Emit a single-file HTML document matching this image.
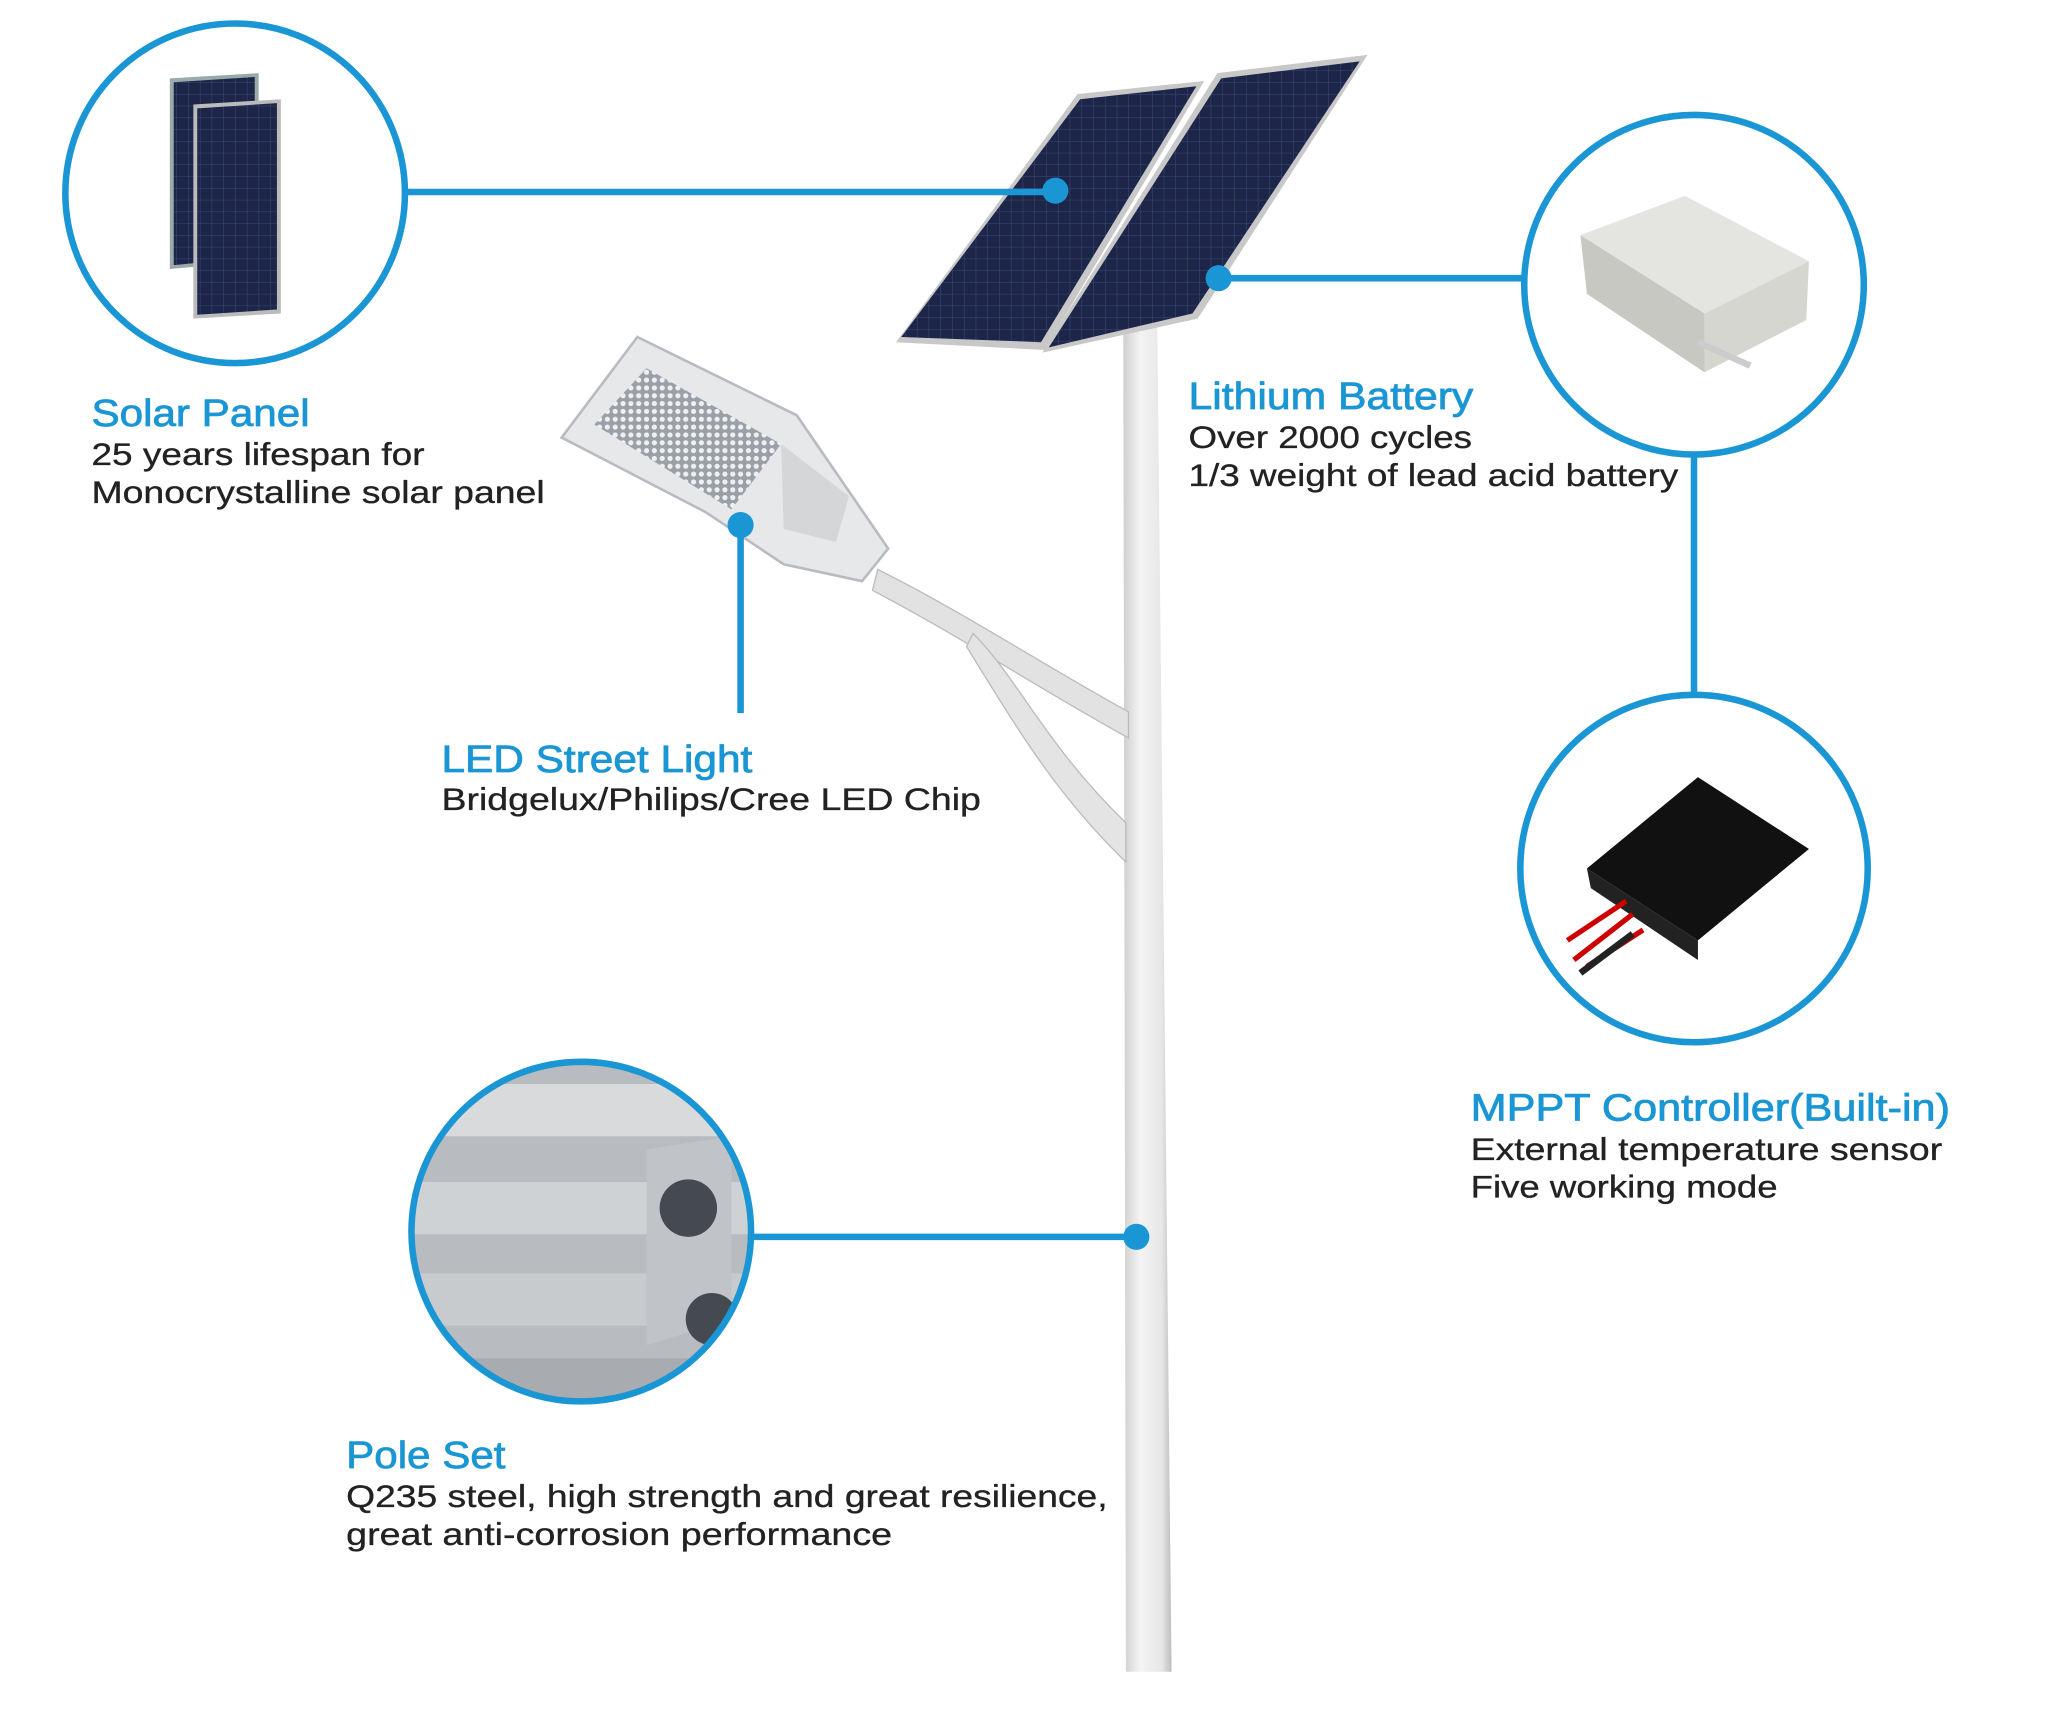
<!DOCTYPE html>
<html><head><meta charset="utf-8">
<style>
html,body{margin:0;padding:0;background:#fff;}
svg{display:block;}
.t{font-family:"Liberation Sans",sans-serif;fill:#1a96d4;font-size:29px;stroke:#1a96d4;stroke-width:0.6px;}
.b{font-family:"Liberation Sans",sans-serif;fill:#222;font-size:24px;stroke:#222;stroke-width:0.25px;}
</style></head>
<body>
<svg width="2048" height="1724" viewBox="0 0 1568 1320" xmlns="http://www.w3.org/2000/svg">
<defs>
<linearGradient id="pole" x1="0" x2="1" y1="0" y2="0">
<stop offset="0" stop-color="#cfcfcf"/><stop offset="0.35" stop-color="#f4f4f4"/><stop offset="0.8" stop-color="#e6e6e6"/><stop offset="1" stop-color="#bdbdbd"/>
</linearGradient>
<pattern id="grid" width="9" height="9" patternUnits="userSpaceOnUse">
<rect width="9" height="9" fill="#1d2548"/><path d="M0 0H9M0 0V9" stroke="#3a4a78" stroke-width="0.8"/>
</pattern>
<pattern id="led" width="6" height="6" patternUnits="userSpaceOnUse">
<rect width="6" height="6" fill="#9aa0a8"/><circle cx="3" cy="3" r="2" fill="#eef0f2"/>
</pattern>
<clipPath id="c1"><circle cx="180" cy="148" r="128"/></clipPath>
<clipPath id="c2"><circle cx="1297" cy="218" r="128"/></clipPath>
<clipPath id="c3"><circle cx="1297" cy="665" r="131"/></clipPath>
<clipPath id="c4"><circle cx="445" cy="943" r="128"/></clipPath>
</defs>

<path d="M860 248 L886 248 L897 1280 L862 1280 Z" fill="url(#pole)"/>
<path d="M672 436 C740 470 800 510 864 545 L864 565 C800 530 740 490 668 452 Z" fill="#e2e2e2" stroke="#bbb" stroke-width="1"/>
<path d="M745 485 C780 520 800 570 862 630 L862 660 C810 610 780 560 740 495 Z" fill="#e4e4e4" stroke="#bbb" stroke-width="1"/>

<polygon points="686,262 825,72 922,62 800,268" fill="#c8c8c8"/>
<polygon points="690,258 827,76 916,66 797,262" fill="url(#grid)"/>
<polygon points="798,270 932,56 1047,42 917,244" fill="#c8c8c8"/>
<polygon points="803,266 935,60 1041,47 913,240" fill="url(#grid)"/>

<path d="M430 335 L488 258 L610 318 L680 420 L660 445 L600 432 L540 392 Z" fill="#e6e8ea" stroke="#b8bcc0" stroke-width="2"/>
<polygon points="455,325 495,282 598,340 560,390" fill="url(#led)"/>
<path d="M598 340 L650 380 L640 415 L600 405 Z" fill="#d4d6d8"/>

<g clip-path="url(#c1)">
<rect x="50" y="18" width="260" height="260" fill="#fff"/>
<polygon points="130,60 198,56 198,200 130,206" fill="#9aa"/>
<polygon points="133,63 195,59 195,197 133,203" fill="url(#grid)"/>
<polygon points="148,80 215,76 215,240 148,244" fill="#bbb"/>
<polygon points="151,83 212,79 212,237 151,241" fill="url(#grid)"/>
</g>
<circle cx="180" cy="148" r="130" fill="none" stroke="#1a96d4" stroke-width="5"/>
<line x1="310" y1="147" x2="808" y2="147" stroke="#1a96d4" stroke-width="5"/>
<circle cx="808" cy="146" r="10" fill="#1a96d4"/>

<g clip-path="url(#c2)">
<polygon points="1210,180 1290,150 1385,200 1305,240" fill="#e4e4e0"/>
<polygon points="1210,180 1305,240 1305,285 1215,225" fill="#c8c8c2"/>
<polygon points="1305,240 1385,200 1383,245 1305,285" fill="#d6d6d0"/>
<path d="M1300 262 L1340 280" stroke="#ccc" stroke-width="5"/>
</g>
<circle cx="1297" cy="218" r="130" fill="none" stroke="#1a96d4" stroke-width="5"/>
<line x1="933" y1="213" x2="1167" y2="213" stroke="#1a96d4" stroke-width="5"/>
<circle cx="933" cy="213" r="10" fill="#1a96d4"/>
<line x1="1297" y1="348" x2="1297" y2="532" stroke="#1a96d4" stroke-width="5"/>

<g clip-path="url(#c3)">
<polygon points="1215,665 1300,595 1385,650 1300,720" fill="#111"/>
<polygon points="1215,665 1300,720 1300,735 1218,680" fill="#222"/>
<path d="M1200 720 L1245 690 M1205 735 L1250 700 M1215 740 L1258 712" stroke="#c00" stroke-width="4"/>
<path d="M1210 745 L1250 715" stroke="#222" stroke-width="5"/>
</g>
<circle cx="1297" cy="665" r="133" fill="none" stroke="#1a96d4" stroke-width="5"/>

<circle cx="567" cy="402" r="10" fill="#1a96d4"/>
<line x1="567" y1="402" x2="567" y2="546" stroke="#1a96d4" stroke-width="5"/>

<g clip-path="url(#c4)">
<rect x="310" y="810" width="270" height="270" fill="#b8bcc0"/>
<rect x="310" y="830" width="270" height="40" fill="#d8dadc"/>
<rect x="310" y="905" width="270" height="40" fill="#cfd2d4"/>
<rect x="310" y="975" width="270" height="40" fill="#c8cbce"/>
<rect x="310" y="1040" width="270" height="40" fill="#a8acb0"/>
<polygon points="495,880 560,870 560,1010 495,1030" fill="#c0c4c8"/>
<circle cx="527" cy="925" r="22" fill="#444a50"/>
<circle cx="545" cy="1010" r="20" fill="#444a50"/>
</g>
<circle cx="445" cy="943" r="130" fill="none" stroke="#1a96d4" stroke-width="5"/>
<line x1="575" y1="947" x2="870" y2="947" stroke="#1a96d4" stroke-width="5"/>
<circle cx="870" cy="947" r="10" fill="#1a96d4"/>

<text class="t" x="70" y="326" textLength="167" lengthAdjust="spacingAndGlyphs">Solar Panel</text>
<text class="b" x="70" y="356" textLength="255" lengthAdjust="spacingAndGlyphs">25 years lifespan for</text>
<text class="b" x="70" y="385" textLength="347" lengthAdjust="spacingAndGlyphs">Monocrystalline solar panel</text>

<text class="t" x="910" y="313" textLength="218" lengthAdjust="spacingAndGlyphs">Lithium Battery</text>
<text class="b" x="910" y="343" textLength="217" lengthAdjust="spacingAndGlyphs">Over 2000 cycles</text>
<text class="b" x="910" y="372" textLength="375" lengthAdjust="spacingAndGlyphs">1/3 weight of lead acid battery</text>

<text class="t" x="338" y="591" textLength="238" lengthAdjust="spacingAndGlyphs">LED Street Light</text>
<text class="b" x="338" y="620" textLength="413" lengthAdjust="spacingAndGlyphs">Bridgelux/Philips/Cree LED Chip</text>

<text class="t" x="1126" y="858" textLength="367" lengthAdjust="spacingAndGlyphs">MPPT Controller(Built-in)</text>
<text class="b" x="1126" y="888" textLength="361" lengthAdjust="spacingAndGlyphs">External temperature sensor</text>
<text class="b" x="1126" y="917" textLength="235" lengthAdjust="spacingAndGlyphs">Five working mode</text>

<text class="t" x="265" y="1124" textLength="122" lengthAdjust="spacingAndGlyphs">Pole Set</text>
<text class="b" x="265" y="1154" textLength="583" lengthAdjust="spacingAndGlyphs">Q235 steel, high strength and great resilience,</text>
<text class="b" x="265" y="1183" textLength="418" lengthAdjust="spacingAndGlyphs">great anti-corrosion performance</text>
</svg>
</body></html>
